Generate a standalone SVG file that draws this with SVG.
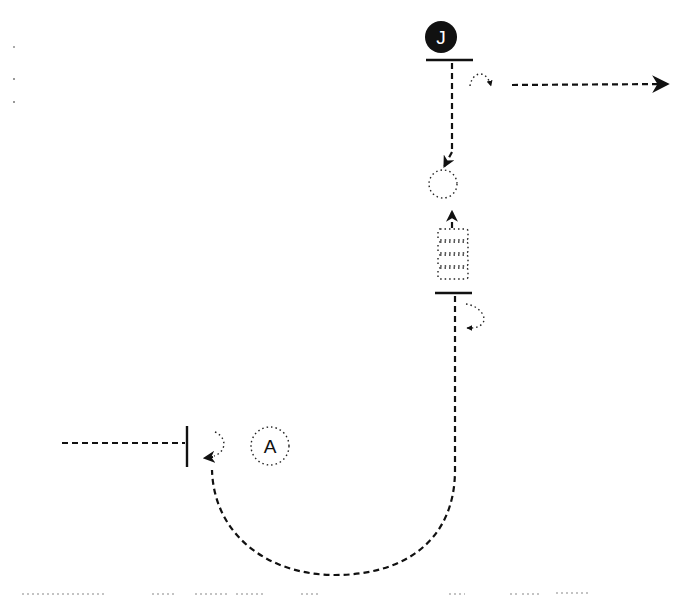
<svg xmlns="http://www.w3.org/2000/svg" width="700" height="599" viewBox="0 0 700 599">
<style>
.dash{fill:none;stroke:#111;stroke-width:2.2;stroke-dasharray:6,4}
.dot{fill:none;stroke:#222;stroke-width:1.4;stroke-dasharray:1.5,3}
.bar{stroke:#111;stroke-width:2.4}
.faint{stroke:#888;stroke-width:1.2;stroke-dasharray:2,3}
.lbl{font-family:"Liberation Sans",Arial,sans-serif;font-size:19px;text-anchor:middle}
</style>
<defs>
<marker id="ah" viewBox="0 0 10 10" refX="9" refY="5" markerWidth="5.5" markerHeight="5.5" orient="auto"><path d="M0,0 L10,5 L0,10 L3,5 Z" fill="#111"/></marker>
<marker id="ahb" viewBox="0 0 10 10" refX="9" refY="5" markerWidth="10" markerHeight="8" orient="auto"><path d="M0,0 L10,5 L0,10 L3,5 Z" fill="#111"/></marker>
<marker id="ahs" viewBox="0 0 10 10" refX="9" refY="5" markerWidth="6" markerHeight="6" orient="auto" markerUnits="userSpaceOnUse"><path d="M0,0 L10,5 L0,10 Z" fill="#111"/></marker>
</defs>
<rect width="700" height="599" fill="#fff"/>
<g id="marks">
<rect x="13" y="46" width="2" height="2" fill="#aaa"/>
<rect x="13" y="78" width="2" height="2" fill="#999"/>
<rect x="13" y="101" width="2" height="2" fill="#999"/>
<line class="faint" x1="22" y1="594" x2="105" y2="594"/>
<line class="faint" x1="152" y1="594" x2="175" y2="594"/>
<line class="faint" x1="195" y1="594" x2="228" y2="594"/>
<line class="faint" x1="236" y1="594" x2="265" y2="594"/>
<line class="faint" x1="301" y1="594" x2="318" y2="594"/>
<line class="faint" x1="449" y1="594" x2="465" y2="594"/>
<line class="faint" x1="510" y1="594" x2="517" y2="594"/>
<line class="faint" x1="522" y1="594" x2="540" y2="594"/>
<line class="faint" x1="556" y1="593" x2="588" y2="593"/>
</g>
<g id="connectors">
<line class="dash" x1="452" y1="63" x2="452" y2="152"/>
<path d="M452,152 L444,167" class="dash" marker-end="url(#ah)"/>
<path class="dot" d="M470,86 C472,72 486,68 491,86" marker-end="url(#ahs)"/>
<line class="dash" x1="512" y1="85" x2="668" y2="84" marker-end="url(#ahb)"/>
<line class="dash" x1="452" y1="228" x2="452" y2="211" marker-end="url(#ah)"/>
<path class="dot" d="M466,304 C480,306 488,318 482,324 C478,328 474,328 467,328" marker-end="url(#ahs)"/>
<path class="dash" d="M455,296 L455,470 C455,540 405,575 335,575 C268,575 214,535 212,470"/>
<path class="dot" d="M215,432 C228,438 226,452 214,456" />
<path d="M213,457 L204,458" class="dash" marker-end="url(#ah)"/>
<line class="dash" x1="62" y1="443" x2="185" y2="443"/>
</g>
<g id="J">
<circle cx="441" cy="37" r="16" fill="#111"/>
<text x="441" y="44" class="lbl" fill="#fff">J</text>
<line class="bar" x1="426" y1="60" x2="473" y2="60"/>
</g>
<g id="source-sink">
<circle cx="443" cy="184" r="14" class="dot"/>
</g>
<g id="stack">
<rect x="438" y="229" width="30" height="11" rx="2" class="dot"/>
<rect x="438" y="242" width="30" height="11" rx="2" class="dot"/>
<rect x="438" y="255" width="30" height="11" rx="2" class="dot"/>
<rect x="438" y="268" width="30" height="11" rx="2" class="dot"/>
<line class="bar" x1="435" y1="293" x2="472" y2="293"/>
</g>
<g id="left-bar">
<line class="bar" x1="187" y1="426" x2="187" y2="467"/>
</g>
<g id="A">
<circle cx="270" cy="446" r="19" class="dot"/>
<text x="270" y="453" class="lbl" fill="#111">A</text>
</g>
</svg>
